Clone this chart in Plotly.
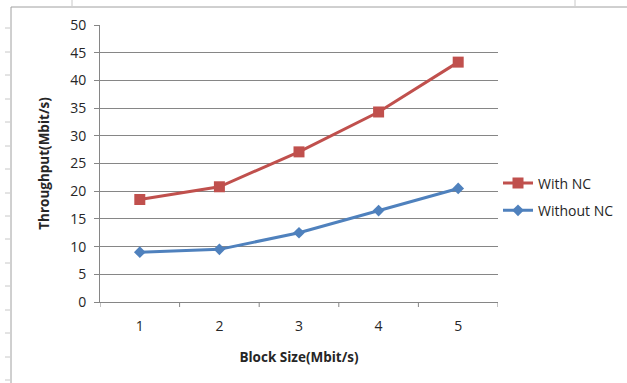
import plotly.graph_objects as go

block_sizes = [1, 2, 3, 4, 5]
with_nc = [18.5, 20.8, 27.1, 34.3, 43.3]
without_nc = [9.0, 9.5, 12.5, 16.5, 20.5]
y_ticks = [0, 5, 10, 15, 20, 25, 30, 35, 40, 45, 50]

W, H = 627, 383
L, R, T, B = 100, 129, 25, 81
pw, ph = W - L - R, H - T - B

def px(x):
    return (x - L) / pw

def py(y):
    return (H - B - y) / ph

FONT = "Open Sans"
TXT = "#262626"
fig = go.Figure()
fig.add_trace(go.Scatter(
    x=block_sizes, y=with_nc, name="With NC", mode="lines+markers",
    line=dict(color="#C0504D", width=3),
    marker=dict(symbol="square", size=11, color="#C0504D"),
    legendgroup="a"))
fig.add_trace(go.Scatter(
    x=block_sizes, y=without_nc, name="Without NC", mode="lines+markers",
    line=dict(color="#4F81BD", width=3),
    marker=dict(symbol="diamond", size=9, color="#4F81BD"),
    legendgroup="b"))

shapes = []
# chart frame (top and left)
shapes.append(dict(type="line", xref="paper", yref="paper", x0=px(11), x1=px(627), y0=py(7), y1=py(7),
                   line=dict(color="#A0A0A0", width=1)))
shapes.append(dict(type="line", xref="paper", yref="paper", x0=px(11), x1=px(11), y0=py(7), y1=py(383),
                   line=dict(color="#A0A0A0", width=1)))
# spreadsheet row ticks on left
for yy in [28, 52, 75, 99, 122, 146, 169, 193, 216, 239, 263, 286, 310, 333, 357, 380]:
    shapes.append(dict(type="line", xref="paper", yref="paper", x0=px(5), x1=px(10), y0=py(yy), y1=py(yy),
                       line=dict(color="#C8C8C8", width=1)))
for xx in [72, 575]:
    shapes.append(dict(type="line", xref="paper", yref="paper", x0=px(xx), x1=px(xx), y0=py(0), y1=py(6),
                       line=dict(color="#C8C8C8", width=1)))

fig.update_layout(
    width=W, height=H, autosize=False,
    margin=dict(l=L, r=R, t=T, b=B, autoexpand=False),
    paper_bgcolor="white", plot_bgcolor="white",
    font=dict(family=FONT, size=14, color=TXT),
    showlegend=True,
    legend=dict(x=1.0, xanchor="left", y=py(197), yanchor="middle",
                font=dict(family=FONT, size=14, color=TXT),
                tracegroupgap=6, bgcolor="rgba(0,0,0,0)", itemwidth=30),
    shapes=shapes,
    xaxis=dict(range=[0.5, 5.5], tickvals=block_sizes, ticktext=[str(v) for v in block_sizes],
               showgrid=False, zeroline=False, showline=True, linecolor="#868686", linewidth=1,
               ticks="", tickfont=dict(size=14), ticklabelstandoff=11,
               title=dict(text="<b>Block Size(Mbit/s)</b>", font=dict(size=13.5), standoff=18)),
    yaxis=dict(range=[0, 50], tickvals=y_ticks, showgrid=True, gridcolor="#868686", gridwidth=1,
               zeroline=False, showline=True, linecolor="#868686", linewidth=1,
               ticks="outside", ticklen=5, tickcolor="#868686", tickfont=dict(size=14),
               ticklabelstandoff=5,
               title=dict(text="<b>Throughput(Mbit/s)</b>", font=dict(size=13.5), standoff=17)),
)

# category boundary ticks on x axis
for b in [0.5, 1.5, 2.5, 3.5, 4.5, 5.5]:
    fig.add_shape(type="line", xref="x", yref="paper", x0=b, x1=b, y0=0, y1=-5/ph,
                  line=dict(color="#868686", width=1))

fig.write_html("out.html", config={"displayModeBar": False},
               post_script="document.body.style.margin='0';document.body.style.overflow='hidden';")
